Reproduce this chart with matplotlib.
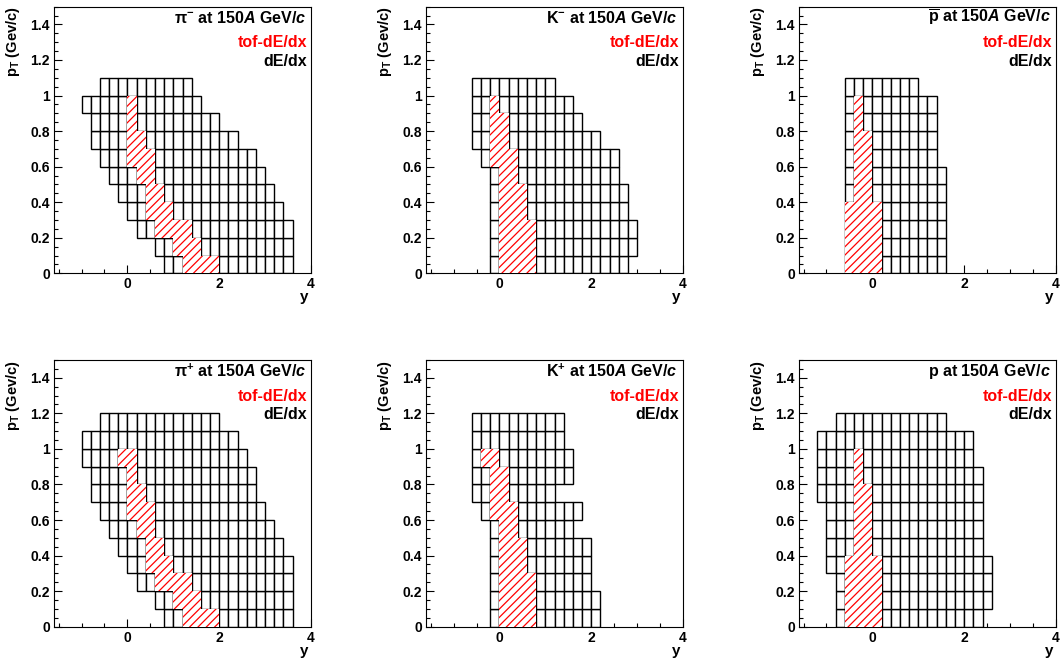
import numpy as np
import matplotlib
matplotlib.use('Agg')
import matplotlib.pyplot as plt
from matplotlib.ticker import MultipleLocator, FixedLocator, FixedFormatter

plt.rcParams['font.family'] = ['Liberation Sans', 'DejaVu Sans']
plt.rcParams['font.weight'] = 'bold'
plt.rcParams['mathtext.fontset'] = 'custom'
plt.rcParams['mathtext.rm'] = 'Liberation Sans:bold'
plt.rcParams['mathtext.it'] = 'Liberation Sans:italic:bold'
plt.rcParams['mathtext.bf'] = 'Liberation Sans:bold'
plt.rcParams['hatch.linewidth'] = 0.9

# pT bin lower edges (bin width 0.1), y bin width 0.2
pt_neg = [0.0, 0.1, 0.2, 0.3, 0.4, 0.5, 0.6, 0.7, 0.8, 0.9, 1.0]
pt_pos = [0.0, 0.1, 0.2, 0.3, 0.4, 0.5, 0.6, 0.7, 0.8, 0.9, 1.0, 1.1]
pt_tof = [0.0, 0.1, 0.2, 0.3, 0.4, 0.5, 0.6, 0.7, 0.8, 0.9]

# dE/dx acceptance: first and last y edge per pT row
pim_lo = [0.8, 0.6, 0.2, 0.0, -0.2, -0.4, -0.6, -0.8, -0.8, -1.0, -0.6]
pim_hi = [3.6, 3.6, 3.6, 3.4, 3.2, 3.0, 2.8, 2.4, 2.0, 1.6, 1.4]
km_lo = [-0.2, -0.2, -0.2, -0.2, -0.2, -0.2, -0.4, -0.6, -0.6, -0.6, -0.6]
km_hi = [2.8, 3.0, 3.0, 2.8, 2.8, 2.6, 2.6, 2.2, 1.8, 1.6, 1.2]
pbar_lo = [-0.6, -0.6, -0.6, -0.6, -0.6, -0.6, -0.6, -0.6, -0.6, -0.6, -0.6]
pbar_hi = [1.6, 1.6, 1.6, 1.6, 1.6, 1.6, 1.4, 1.4, 1.4, 1.4, 1.0]
pip_lo = [0.8, 0.6, 0.2, 0.0, -0.2, -0.4, -0.6, -0.8, -0.8, -1.0, -1.0, -0.6]
pip_hi = [3.6, 3.6, 3.6, 3.6, 3.4, 3.2, 3.0, 2.8, 2.8, 2.6, 2.4, 2.0]
kp_lo = [-0.2, -0.2, -0.2, -0.2, -0.2, -0.2, -0.4, -0.6, -0.6, -0.6, -0.6, -0.6]
kp_hi = [2.2, 2.2, 2.0, 2.0, 2.0, 1.6, 1.8, 1.2, 1.6, 1.6, 1.4, 1.4]
p_lo = [-0.8, -0.8, -0.8, -1.0, -1.0, -1.0, -1.0, -1.2, -1.2, -1.2, -1.2, -0.8]
p_hi = [2.4, 2.6, 2.6, 2.6, 2.4, 2.4, 2.4, 2.4, 2.4, 2.2, 2.2, 1.6]

# tof-dE/dx acceptance
pim_tof_lo = [1.2, 1.0, 0.6, 0.4, 0.4, 0.2, 0.0, 0.0, 0.0, 0.0]
pim_tof_hi = [2.0, 1.6, 1.4, 1.0, 0.8, 0.6, 0.6, 0.4, 0.2, 0.2]
km_tof_lo = [0.0, 0.0, 0.0, 0.0, 0.0, 0.0, -0.2, -0.2, -0.2, -0.2]
km_tof_hi = [0.8, 0.8, 0.8, 0.6, 0.6, 0.4, 0.4, 0.2, 0.2, 0.0]
pbar_tof_lo = [-0.6, -0.6, -0.6, -0.6, -0.4, -0.4, -0.4, -0.4, -0.4, -0.4]
pbar_tof_hi = [0.2, 0.2, 0.2, 0.2, 0.0, 0.0, 0.0, 0.0, -0.2, -0.2]
pip_tof_lo = [1.2, 1.0, 0.6, 0.4, 0.4, 0.2, 0.0, 0.0, 0.0, -0.2]
pip_tof_hi = [2.0, 1.6, 1.4, 1.0, 0.8, 0.6, 0.6, 0.4, 0.2, 0.2]
kp_tof_lo = [0.0, 0.0, 0.0, 0.0, 0.0, 0.0, -0.2, -0.2, -0.2, -0.4]
kp_tof_hi = [0.8, 0.8, 0.8, 0.6, 0.6, 0.4, 0.4, 0.2, 0.2, 0.0]
p_tof_lo = [-0.6, -0.6, -0.6, -0.6, -0.4, -0.4, -0.4, -0.4, -0.4, -0.4]
p_tof_hi = [0.2, 0.2, 0.2, 0.2, 0.0, 0.0, 0.0, 0.0, -0.2, -0.2]

titles = [r'π$^{-}$ at 150$\mathit{A}$ GeV/$\mathit{c}$',
          r'K$^{-}$ at 150$\mathit{A}$ GeV/$\mathit{c}$',
          r'$\overline{\mathrm{p}}$ at 150$\mathit{A}$ GeV/$\mathit{c}$',
          r'π$^{+}$ at 150$\mathit{A}$ GeV/$\mathit{c}$',
          r'K$^{+}$ at 150$\mathit{A}$ GeV/$\mathit{c}$',
          r'p at 150$\mathit{A}$ GeV/$\mathit{c}$']

panels = [(pt_neg, pim_lo, pim_hi, pim_tof_lo, pim_tof_hi),
          (pt_neg, km_lo, km_hi, km_tof_lo, km_tof_hi),
          (pt_neg, pbar_lo, pbar_hi, pbar_tof_lo, pbar_tof_hi),
          (pt_pos, pip_lo, pip_hi, pip_tof_lo, pip_tof_hi),
          (pt_pos, kp_lo, kp_hi, kp_tof_lo, kp_tof_hi),
          (pt_pos, p_lo, p_hi, p_tof_lo, p_tof_hi)]

ytick_vals = [0, 0.2, 0.4, 0.6, 0.8, 1.0, 1.2, 1.4]
ytick_labels = ['0', '0.2', '0.4', '0.6', '0.8', '1', '1.2', '1.4']


def cells(lo, hi):
    n = int(round((hi - lo) / 0.2))
    return lo + 0.2 * np.arange(n)


fig = plt.figure(figsize=(10.63, 6.6), dpi=100)
lefts = [0.0508, 0.4008, 0.7516]
bottoms = [0.5859, 0.0505]

for k, (pts, lo, hi, tlo, thi) in enumerate(panels):
    ax = fig.add_axes([lefts[k % 3], bottoms[k // 3], 0.2418, 0.404])
    for pt, a, b in zip(pts, lo, hi):
        ax.bar(cells(a, b), 0.1, width=0.2, bottom=pt, align='edge',
               color='white', edgecolor='black', linewidth=1.0, zorder=2)
    for pt, a, b in zip(pt_tof, tlo, thi):
        ax.bar(cells(a, b), 0.1, width=0.2, bottom=pt, align='edge',
               color='white', edgecolor='red', hatch='////', linewidth=0,
               zorder=3)

    ax.set_xlim(-1.6, 4.0)
    ax.set_ylim(0, 1.5)
    ax.xaxis.set_major_locator(FixedLocator([0, 2, 4]))
    ax.xaxis.set_minor_locator(MultipleLocator(0.5))
    ax.yaxis.set_major_locator(FixedLocator(ytick_vals))
    ax.yaxis.set_major_formatter(FixedFormatter(ytick_labels))
    ax.yaxis.set_minor_locator(MultipleLocator(0.05))
    ax.tick_params(which='both', direction='in', width=0.8, labelsize=10)
    ax.tick_params(axis='x', which='major', length=6, pad=3)
    ax.tick_params(axis='x', which='minor', length=3)
    ax.tick_params(axis='y', which='major', length=6, pad=3)
    ax.tick_params(axis='y', which='minor', length=3)
    for s in ax.spines.values():
        s.set_linewidth(0.8)

    ax.text(0.98, 0.958, titles[k], transform=ax.transAxes, ha='right',
            va='center', fontsize=11.5, zorder=5)
    ax.text(0.985, 0.864, 'tof-dE/dx', transform=ax.transAxes, ha='right',
            va='center', fontsize=11.5, color='red', zorder=5)
    ax.text(0.985, 0.796, 'dE/dx', transform=ax.transAxes, ha='right',
            va='center', fontsize=11.5, color='black', zorder=5)
    ax.text(0.975, -0.09, 'y', transform=ax.transAxes, ha='center',
            va='center', fontsize=11)
    ax.text(-0.16, 1.0, r'$\mathbf{p}_{\mathbf{T}}$ (Gev/c)',
            transform=ax.transAxes, rotation=90, ha='center', va='top',
            fontsize=10.5)

fig.savefig('out.png', dpi=100)
